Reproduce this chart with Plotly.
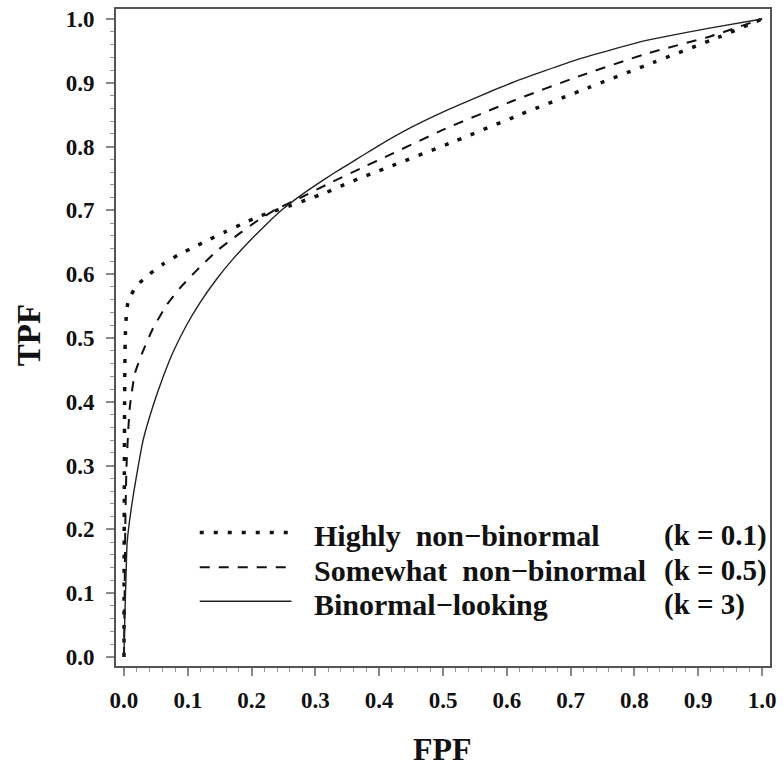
import plotly.graph_objects as go

# ---- data ----
fpf_k01 = [0, 0.0005, 0.001, 0.002, 0.004, 0.007, 0.020, 0.040, 0.0615, 0.0865, 0.111, 0.135, 0.160,
           0.186, 0.210, 0.236, 0.262, 0.290, 0.317, 0.340, 0.366, 0.392, 0.418, 0.520, 0.623,
           0.727, 0.830, 0.931, 1.0]
tpf_k01 = [0, 0.25, 0.40, 0.50, 0.54, 0.559, 0.582, 0.600, 0.616, 0.631, 0.643, 0.655, 0.667,
           0.679, 0.690, 0.699, 0.708, 0.718, 0.728, 0.738, 0.749, 0.759, 0.769, 0.809, 0.851,
           0.892, 0.932, 0.971, 1.0]

fpf_k05 = [0, 0.001, 0.002, 0.004, 0.009, 0.017, 0.028, 0.045, 0.067, 0.0875, 0.114, 0.145, 0.176,
           0.208, 0.239, 0.275, 0.327, 0.380, 0.408, 0.504, 0.608, 0.7125, 0.817, 0.920, 1.0]
tpf_k05 = [0, 0.10, 0.20, 0.30, 0.39, 0.444, 0.475, 0.514, 0.552, 0.578, 0.606, 0.636, 0.660,
           0.683, 0.702, 0.719, 0.745, 0.770, 0.783, 0.828, 0.871, 0.910, 0.945, 0.973, 1.0]

fpf_k3 = [0, 0.001, 0.003, 0.005, 0.014, 0.030, 0.046, 0.061, 0.077, 0.098, 0.119, 0.145, 0.171,
          0.197, 0.223, 0.249, 0.275, 0.301, 0.327, 0.353, 0.374, 0.400, 0.450, 0.504, 0.608,
          0.7125, 0.817, 0.920, 1.0]
tpf_k3 = [0, 0.05, 0.12, 0.18, 0.25, 0.34, 0.395, 0.438, 0.478, 0.520, 0.555, 0.592, 0.624,
          0.652, 0.678, 0.702, 0.722, 0.740, 0.757, 0.773, 0.786, 0.802, 0.830, 0.856, 0.900,
          0.937, 0.966, 0.986, 1.0]

series_names = ["Highly\u00a0 non\u2212binormal", "Somewhat\u00a0 non\u2212binormal", "Binormal\u2212looking"]
series_k = ["(k = 0.1)", "(k = 0.5)", "(k = 3)"]
tick_vals = [0.0, 0.1, 0.2, 0.3, 0.4, 0.5, 0.6, 0.7, 0.8, 0.9, 1.0]
tick_text = ["0.0", "0.1", "0.2", "0.3", "0.4", "0.5", "0.6", "0.7", "0.8", "0.9", "1.0"]

# ---- styles ----
FONT = "Liberation Serif, Times New Roman, serif"
styles = [
    dict(color="#111111", width=3.5, dash="4px,10px"),
    dict(color="#111111", width=2.0, dash="10px,9px"),
    dict(color="#222222", width=1.4, dash="solid"),
]

W, H = 783, 768
L, R, T, B = 116, 11, 7, 102
pw, ph = W - L - R, H - T - B


def px_x(p):
    return (p - L) / pw


def px_y(p):
    return (H - B - p) / ph


fig = go.Figure()
for fx, ty, st, nm in zip([fpf_k01, fpf_k05, fpf_k3], [tpf_k01, tpf_k05, tpf_k3], styles, series_names):
    fig.add_trace(go.Scatter(x=fx, y=ty, mode="lines", line=st, name=nm, showlegend=False,
                             line_shape="spline", line_smoothing=0.5))

# manual legend
row_y = [532, 567, 601]
for i in range(3):
    fig.add_shape(type="line", xref="paper", yref="paper",
                  x0=px_x(200), x1=px_x(292), y0=px_y(row_y[i]), y1=px_y(row_y[i]),
                  line=styles[i])
    fig.add_annotation(xref="paper", yref="paper", x=px_x(313), y=px_y(row_y[i] + 3),
                       xanchor="left", yanchor="middle", showarrow=False,
                       text=series_names[i], font=dict(family=FONT, size=30, color="#111", weight="bold"))
    fig.add_annotation(xref="paper", yref="paper", x=px_x(664), y=px_y(row_y[i] + 3),
                       xanchor="left", yanchor="middle", showarrow=False,
                       text=series_k[i], font=dict(family=FONT, size=29, color="#111", weight="bold"))

# axis titles
fig.add_annotation(xref="paper", yref="paper", x=px_x(443), y=px_y(749), xanchor="center", yanchor="middle",
                   showarrow=False, text="FPF", font=dict(family=FONT, size=32, color="#111", weight="bold"))
fig.add_annotation(xref="paper", yref="paper", x=px_x(29), y=px_y(334), xanchor="center", yanchor="middle",
                   showarrow=False, text="TPF", textangle=-90,
                   font=dict(family=FONT, size=33, color="#111", weight="bold"))

axis_common = dict(
    tickmode="array", tickvals=tick_vals, ticktext=tick_text,
    ticks="outside", ticklen=8, tickwidth=1.5, tickcolor="#888",
    minor=dict(ticks="outside", ticklen=4, tickwidth=1, tickcolor="#999", dtick=0.02, tick0=0, showgrid=False),
    showline=True, linecolor="#555", linewidth=2, mirror=True,
    showgrid=False, zeroline=False,
    tickfont=dict(family=FONT, size=23, color="#111", weight="bold"),
)
fig.update_xaxes(range=[-0.0125, 1.0125], ticklabelstandoff=4, **axis_common)
fig.update_yaxes(range=[-0.0141, 1.0156], ticklabelstandoff=7, **axis_common)

fig.update_layout(width=W, height=H, margin=dict(l=L, r=R, t=T, b=B),
                  plot_bgcolor="white", paper_bgcolor="white", showlegend=False)

fig.write_html("out.html", config={"displayModeBar": False},
               post_script="document.body.style.margin='0';document.body.style.overflow='hidden';")
